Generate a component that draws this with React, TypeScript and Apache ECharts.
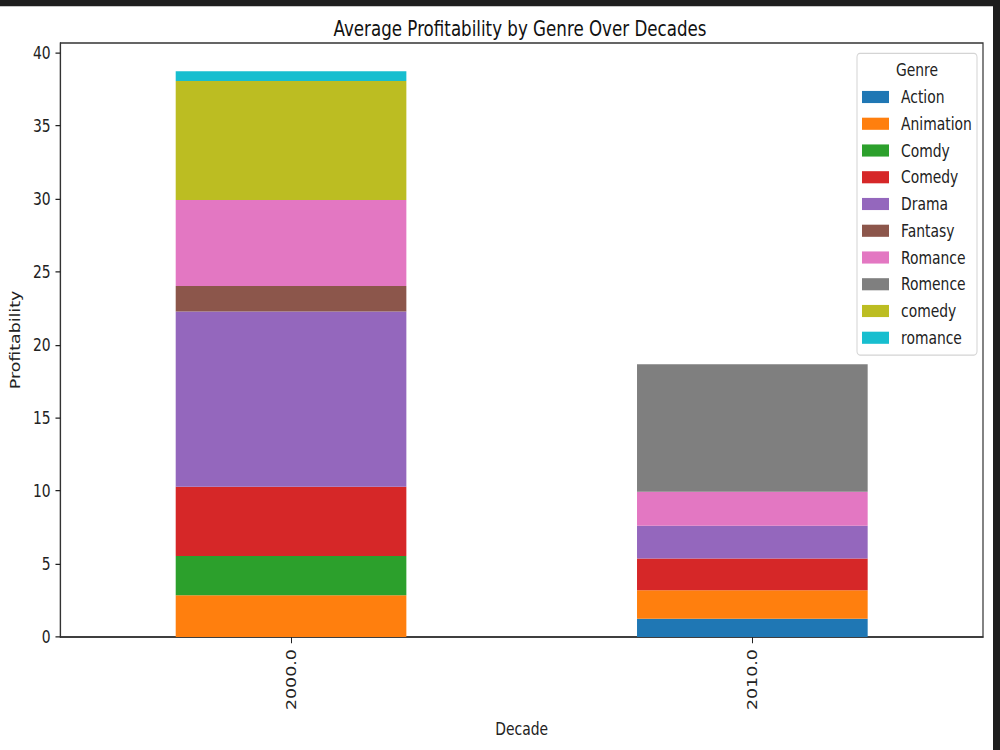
import React, { useEffect, useRef } from "react";
import * as echarts from "echarts";

// Decades on the category axis
const decades = ["2000.0", "2010.0"];

// Genre names, in stacking / legend order
const genres = [
  "Action",
  "Animation",
  "Comdy",
  "Comedy",
  "Drama",
  "Fantasy",
  "Romance",
  "Romence",
  "comedy",
  "romance",
];

// Average profitability per genre, one value per decade
const actionVals = [0, 1.25];
const animationVals = [2.85, 1.95];
const comdyVals = [2.7, 0];
const comedyVals = [4.73, 2.17];
const dramaVals = [12.0, 2.24];
const fantasyVals = [1.73, 0];
const romanceVals = [5.9, 2.33];
const romenceVals = [0, 8.73];
const lowerComedyVals = [8.14, 0];
const lowerRomanceVals = [0.66, 0];

const seriesValues = [
  actionVals,
  animationVals,
  comdyVals,
  comedyVals,
  dramaVals,
  fantasyVals,
  romanceVals,
  romenceVals,
  lowerComedyVals,
  lowerRomanceVals,
];

// Tick labels on the value axis
const yTicks = [0, 5, 10, 15, 20, 25, 30, 35, 40];

// tab10 palette
const palette = [
  "#1f77b4",
  "#ff7f0e",
  "#2ca02c",
  "#d62728",
  "#9467bd",
  "#8c564b",
  "#e377c2",
  "#7f7f7f",
  "#bcbd22",
  "#17becf",
];

const FONT = "DejaVu Sans";

export default function App() {
  const ref = useRef<HTMLDivElement | null>(null);

  useEffect(() => {
    if (!ref.current) return;
    const chart = echarts.init(ref.current, undefined, { renderer: "svg" });

    const totals = decades.map((_, i) =>
      seriesValues.reduce((s, arr) => s + arr[i], 0)
    );
    const yMax = Math.max(...totals) * 1.05;

    const option: any = {
      animation: false,
      backgroundColor: "#ffffff",
      color: palette,
      title: {
        text: "Average Profitability by Genre Over Decades",
        left: 520,
        top: 14,
        padding: 0,
        textAlign: "center",
        textStyle: {
          fontFamily: FONT,
          fontSize: 16.7,
          fontWeight: "normal",
          color: "#111",
        },
      },
      grid: {
        left: 57,
        right: 17,
        top: 34.4,
        bottom: 90.4,
        show: true,
        borderColor: "#333",
        borderWidth: 1.2,
        backgroundColor: "transparent",
      },
      legend: {
        orient: "vertical",
        left: 862,
        top: 70.6,
        padding: 0,
        itemWidth: 27,
        itemHeight: 9.7,
        itemGap: 7.4,
        icon: "rect",
        selectedMode: false,
        data: genres,
        textStyle: {
          fontFamily: FONT,
          fontSize: 13.9,
          color: "#222",
          lineHeight: 14,
          padding: [0, 0, 0, 7],
        },
      },
      xAxis: {
        type: "category",
        data: decades,
        name: "Decade",
        nameLocation: "middle",
        nameGap: 65.8,
        nameTextStyle: { fontFamily: FONT, fontSize: 13.9, color: "#222" },
        axisLine: { show: true, lineStyle: { color: "#333", width: 1.2 } },
        axisTick: {
          show: true,
          alignWithLabel: true,
          length: 4.9,
          lineStyle: { color: "#222" },
        },
        axisLabel: {
          rotate: 90,
          margin: 9.8,
          fontFamily: FONT,
          fontSize: 13.9,
          color: "#222",
        },
        splitLine: { show: false },
      },
      yAxis: {
        type: "value",
        min: 0,
        max: yMax,
        name: "Profitability",
        nameLocation: "middle",
        nameGap: 31,
        nameTextStyle: { fontFamily: FONT, fontSize: 13.9, color: "#222" },
        axisLine: { show: true, lineStyle: { color: "#333", width: 1.2 } },
        axisTick: {
          show: true,
          length: 4.9,
          customValues: yTicks,
          lineStyle: { color: "#222" },
        },
        axisLabel: {
          customValues: yTicks,
          margin: 9.8,
          fontFamily: FONT,
          fontSize: 13.9,
          color: "#222",
        },
        splitLine: { show: false },
      },
      series: genres.map((g, i) => ({
        name: g,
        type: "bar",
        stack: "total",
        barWidth: "50%",
        data: seriesValues[i],
        itemStyle: { color: palette[i] },
        emphasis: { disabled: true },
      })),
      graphic: [
        // legend frame and title
        {
          type: "rect",
          z: -1,
          shape: { x: 857, y: 42.6, width: 120, height: 241.4, r: 3 },
          style: { fill: "rgba(255,255,255,0.8)", stroke: "#d4d4d4", lineWidth: 1 },
        },
        {
          type: "text",
          x: 917,
          y: 56,
          style: {
            text: "Genre",
            fontFamily: FONT,
            fontSize: 13.9,
            fill: "#222",
            align: "center",
            verticalAlign: "middle",
          },
        },
        // dark window frame along the top and right edges
        {
          type: "rect",
          shape: { x: 0, y: 0, width: 1000, height: 5 },
          style: { fill: "#1e1e1e" },
        },
        {
          type: "rect",
          shape: { x: 993, y: 0, width: 7, height: 600 },
          style: { fill: "#1e1e1e" },
        },
      ],
    };

    chart.setOption(option);
    return () => chart.dispose();
  }, []);

  return (
    <div
      style={{
        position: "absolute",
        left: 0,
        top: 0,
        width: 1000,
        height: 750,
        overflow: "hidden",
        background: "#ffffff",
      }}
    >
      <div
        ref={ref}
        style={{
          width: 1000,
          height: 600,
          transform: "scaleY(1.25)",
          transformOrigin: "0 0",
        }}
      />
    </div>
  );
}
